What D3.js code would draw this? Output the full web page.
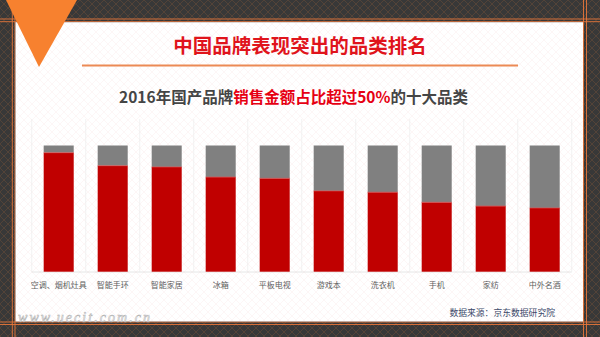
<!DOCTYPE html>
<html>
<head>
<meta charset="utf-8">
<script src="https://cdn.jsdelivr.net/npm/d3@7"></script>
<style>
html,body{margin:0;padding:0;background:#3a3a3a;}
svg{display:block;}
</style>
</head>
<body>
<svg id="c" width="600" height="337"></svg>
<script>
const categories = ["空调、烟机灶具","智能手环","智能家居","冰箱","平板电视","游戏本","洗衣机","手机","家纺","中外名酒"];
const domesticShare = [94.3, 84, 83, 75, 74, 64, 63, 55, 52, 50.5];
const otherShare = domesticShare.map(v => 100 - v);
const yTicks = [0, 100];

const svg = d3.select("#c");
const defs = svg.append("defs");
const pat = defs.append("pattern").attr("id","dk").attr("width",8).attr("height",8).attr("patternUnits","userSpaceOnUse");
pat.append("rect").attr("width",8).attr("height",8).attr("fill","#383838");
pat.append("path").attr("d","M0,0L8,8M8,0L0,8").attr("stroke","#5a4638").attr("stroke-width",0.8);
const pat2 = defs.append("pattern").attr("id","lt").attr("width",8).attr("height",8).attr("patternUnits","userSpaceOnUse");
pat2.append("rect").attr("width",8).attr("height",8).attr("fill","#ffffff");
pat2.append("path").attr("d","M0,0L8,8M8,0L0,8").attr("stroke","#fbf0f0").attr("stroke-width",0.6);

svg.append("rect").attr("width",600).attr("height",337).attr("fill","url(#dk)");

// frame lines
const oc = "#e8763a";
[19, 21.7, 322, 324.5].forEach(y => svg.append("line").attr("x1",0).attr("x2",600).attr("y1",y).attr("y2",y).attr("stroke",oc).attr("stroke-width",0.9));
[12.3, 15, 583.5, 586.5].forEach(x => svg.append("line").attr("y1",0).attr("y2",337).attr("x1",x).attr("x2",x).attr("stroke",oc).attr("stroke-width",0.9));
svg.append("rect").attr("x",15.5).attr("y",22.2).attr("width",567.5).attr("height",299.3).attr("fill","url(#lt)");

// orange triangle
svg.append("path").attr("d","M6,0L77,0L39,67Z").attr("fill","#f7812f");

// title
svg.append("text").attr("x",300).attr("y",53).attr("text-anchor","middle")
  .attr("font-family","'Noto Sans CJK SC'").attr("font-weight","bold").attr("font-size",19.5)
  .attr("fill","#e0141c").text("中国品牌表现突出的品类排名");
svg.append("line").attr("x1",82).attr("x2",518).attr("y1",65.5).attr("y2",65.5).attr("stroke","#ec8a55").attr("stroke-width",2);

// subtitle
const st = svg.append("text").attr("x",293.5).attr("y",102.5).attr("text-anchor","middle")
  .attr("font-family","'Noto Sans CJK SC'").attr("font-weight","bold").attr("font-size",15.5);
st.append("tspan").attr("fill","#454545").text("2016年国产品牌");
st.append("tspan").attr("fill","#e60012").text("销售金额占比超过50%");
st.append("tspan").attr("fill","#454545").text("的十大品类");

// chart
const x = d3.scaleBand().domain(categories).range([31.7, 571.7]).paddingInner(0.444).paddingOuter(0.222);
const y = d3.scaleLinear().domain([yTicks[0], yTicks[1]]).range([271.7, 145.5]);
const g = svg.append("g");

const step = x.step();
d3.range(categories.length + 1).forEach(i => {
  const xx = x.range()[0] + i * step;
  g.append("line").attr("x1",xx).attr("x2",xx).attr("y1",119).attr("y2",271.7).attr("stroke","#ececec").attr("stroke-width",0.7);
});
g.append("line").attr("x1",x.range()[0]).attr("x2",x.range()[1]).attr("y1",272).attr("y2",272).attr("stroke","#e0e0e0").attr("stroke-width",0.8);

g.selectAll(".r").data(categories).join("rect")
  .attr("x", d => x(d)).attr("width", x.bandwidth())
  .attr("y", (d,i) => y(domesticShare[i])).attr("height", (d,i) => y(0) - y(domesticShare[i]))
  .attr("fill","#c00000");
g.selectAll(".gr").data(categories).join("rect")
  .attr("x", d => x(d)).attr("width", x.bandwidth())
  .attr("y", (d,i) => y(domesticShare[i] + otherShare[i])).attr("height", (d,i) => y(domesticShare[i]) - y(domesticShare[i] + otherShare[i]))
  .attr("fill","#808080");
g.selectAll(".ln").data(categories).join("line")
  .attr("x1", d => x(d)).attr("x2", d => x(d) + x.bandwidth())
  .attr("y1", (d,i) => y(domesticShare[i])).attr("y2", (d,i) => y(domesticShare[i]))
  .attr("stroke","#e05050").attr("stroke-width",0.7);

const ax = svg.append("g").attr("transform","translate(0,272)")
  .call(d3.axisBottom(x).tickSize(0).tickPadding(10));
ax.select(".domain").remove();
ax.selectAll("text").attr("font-family","'Noto Sans CJK SC'").attr("font-size",8).attr("fill","#606060");

// source
svg.append("text").attr("x",555).attr("y",316).attr("text-anchor","end")
  .attr("font-family","'Noto Sans CJK SC'").attr("font-size",8.8).attr("fill","#3d4a6b").text("数据来源：京东数据研究院");

// watermark
svg.append("text").attr("x",18).attr("y",322).attr("font-family","'Liberation Serif'").attr("font-style","italic")
  .attr("font-size",14).attr("fill","#f4f4f4").attr("stroke","#b0b0b0").attr("stroke-width",0.5)
  .attr("textLength",132).text("www.uecit.com.cn");
</script>
</body>
</html>
